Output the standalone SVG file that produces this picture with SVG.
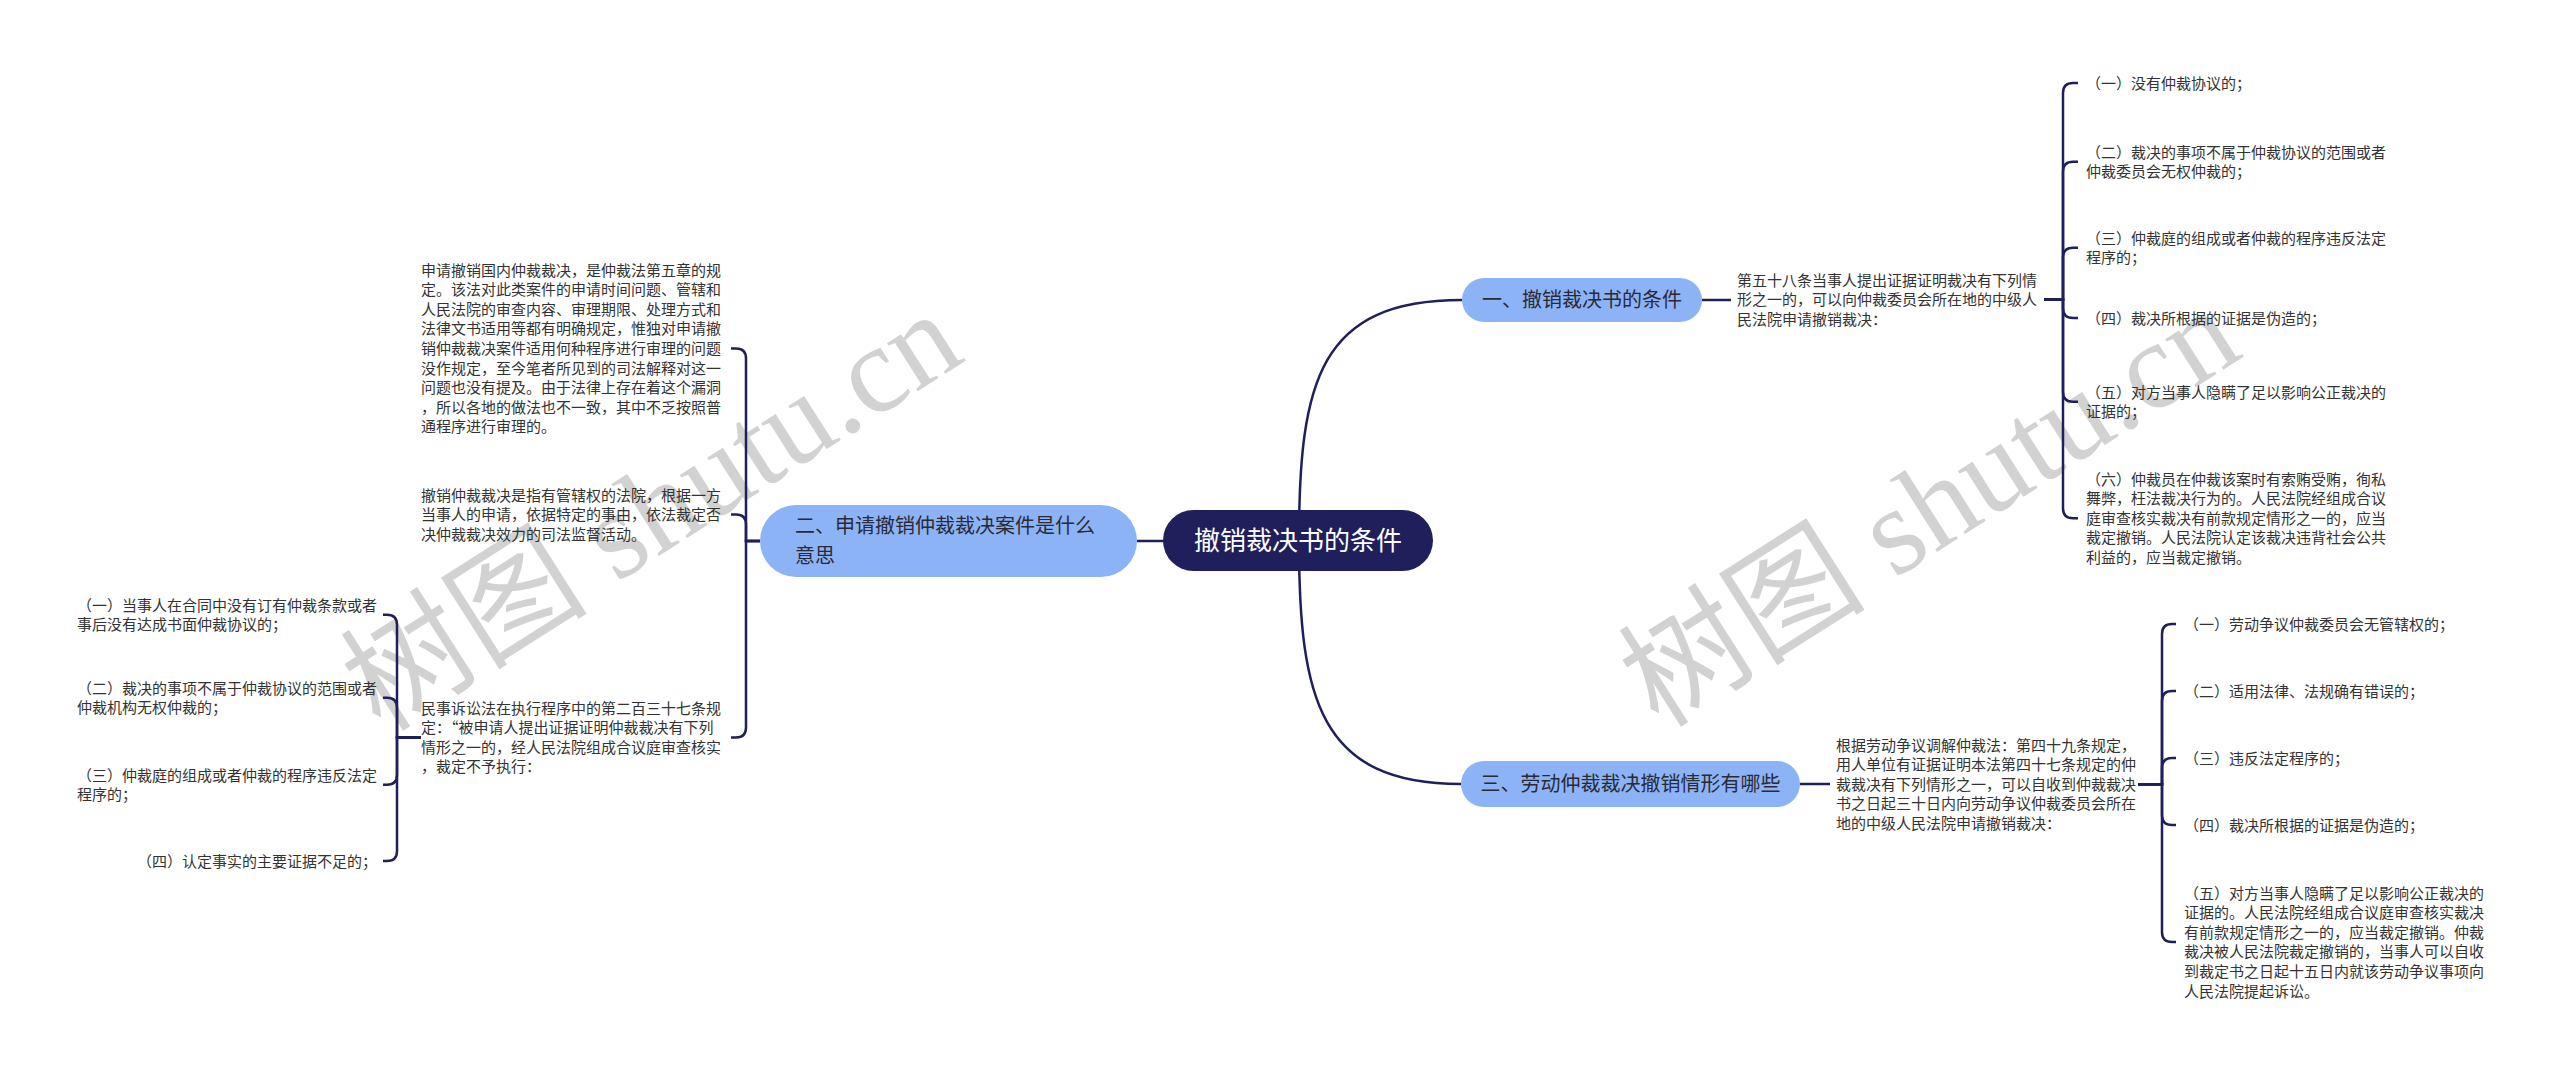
<svg xmlns="http://www.w3.org/2000/svg" width="2560" height="1073" viewBox="0 0 2560 1073">
<style>
.t{font-family:"Noto Sans CJK SC","Noto Sans",sans-serif;font-size:15px;fill:#333333}
.b{font-family:"Noto Sans CJK SC","Noto Sans",sans-serif;font-size:20px;fill:#2a2a36}
.c{font-family:"Noto Sans CJK SC","Noto Sans",sans-serif;font-size:26px;fill:#ffffff}
.ln{fill:none;stroke:#1f1f5b;stroke-width:2.5}
.wm{font-family:"Liberation Serif","Noto Sans CJK SC",serif;font-size:124px;fill:#d2d2d2}
.bn{fill:#8cb3f6}
.cn{fill:#1f1f5b}
</style>
<rect x="0" y="0" width="2560" height="1073" fill="#ffffff"/>
<g id="watermarks">
<text class="wm" x="651" y="553" text-anchor="middle" transform="rotate(-32.5 651 510)">树图 shutu.cn</text>
<text class="wm" x="1929" y="549" text-anchor="middle" transform="rotate(-32.5 1929 506)">树图 shutu.cn</text>
</g>
<g id="connectors">
<path class="ln" d="M1299,541 H1137"/>
<path class="ln" d="M1299,541 C1299,380 1320,300 1462,300"/>
<path class="ln" d="M1299,541 C1299,700 1320,784 1461,784"/>
<path class="ln" d="M1702,300 H1731"/>
<path class="ln" d="M1800,784 H1830"/>
<path class="ln" d="M2044,299.5 H2063 V93 Q2063,83 2073,83 H2078"/>
<path class="ln" d="M2044,299.5 H2063 V171.8 Q2063,161.8 2073,161.8 H2078"/>
<path class="ln" d="M2044,299.5 H2063 V257.8 Q2063,247.8 2073,247.8 H2078"/>
<path class="ln" d="M2044,299.5 H2063 V308 Q2063,318 2073,318 H2078"/>
<path class="ln" d="M2044,299.5 H2063 V391.8 Q2063,401.8 2073,401.8 H2078"/>
<path class="ln" d="M2044,299.5 H2063 V508.2 Q2063,518.2 2073,518.2 H2078"/>
<path class="ln" d="M2138,784.2 H2162 V634 Q2162,624 2172,624 H2176"/>
<path class="ln" d="M2138,784.2 H2162 V701 Q2162,691 2172,691 H2176"/>
<path class="ln" d="M2138,784.2 H2162 V768 Q2162,758 2172,758 H2176"/>
<path class="ln" d="M2138,784.2 H2162 V815 Q2162,825 2172,825 H2176"/>
<path class="ln" d="M2138,784.2 H2162 V932 Q2162,942 2172,942 H2176"/>
<path class="ln" d="M760,541 H746 V358.4 Q746,348.4 736,348.4 H731"/>
<path class="ln" d="M760,541 H746 V524.6 Q746,514.6 736,514.6 H731"/>
<path class="ln" d="M760,541 H746 V727.4 Q746,737.4 736,737.4 H731"/>
<path class="ln" d="M421,737.4 H397 V624.8 Q397,614.8 387,614.8 H383"/>
<path class="ln" d="M421,737.4 H397 V707.8 Q397,697.8 387,697.8 H383"/>
<path class="ln" d="M421,737.4 H397 V774.8 Q397,784.8 387,784.8 H383"/>
<path class="ln" d="M421,737.4 H397 V851 Q397,861 387,861 H383"/>
</g>
<g id="root">
<rect class="cn" x="1163" y="510" width="270" height="61" rx="30.5"/>
<text class="c" x="1298" y="550" text-anchor="middle">撤销裁决书的条件</text>
</g>
<g id="branch1">
<rect class="bn" x="1462" y="278" width="240" height="44" rx="22"/>
<text class="b" x="1582" y="307" text-anchor="middle">一、撤销裁决书的条件</text>
</g>
<g id="branch2">
<rect class="bn" x="760" y="505" width="377" height="72" rx="36"/>
<text class="b" x="795" y="533">二、申请撤销仲裁裁决案件是什么</text>
<text class="b" x="795" y="563">意思</text>
</g>
<g id="branch3">
<rect class="bn" x="1461" y="761" width="339" height="46" rx="23"/>
<text class="b" x="1630.5" y="791" text-anchor="middle">三、劳动仲裁裁决撤销情形有哪些</text>
</g>
<g id="b1-text">
<text class="t" x="1737" y="285.5">第五十八条当事人提出证据证明裁决有下列情</text>
<text class="t" x="1737" y="305">形之一的，可以向仲裁委员会所在地的中级人</text>
<text class="t" x="1737" y="324.5">民法院申请撤销裁决：</text>
</g>
<g id="b1-item1"><text class="t" x="2086" y="88.5">（一）没有仲裁协议的；</text></g>
<g id="b1-item2">
<text class="t" x="2086" y="157.5">（二）裁决的事项不属于仲裁协议的范围或者</text>
<text class="t" x="2086" y="177.1">仲裁委员会无权仲裁的；</text>
</g>
<g id="b1-item3">
<text class="t" x="2086" y="243.5">（三）仲裁庭的组成或者仲裁的程序违反法定</text>
<text class="t" x="2086" y="263.1">程序的；</text>
</g>
<g id="b1-item4"><text class="t" x="2086" y="323.5">（四）裁决所根据的证据是伪造的；</text></g>
<g id="b1-item5">
<text class="t" x="2086" y="397.5">（五）对方当事人隐瞒了足以影响公正裁决的</text>
<text class="t" x="2086" y="417.1">证据的；</text>
</g>
<g id="b1-item6">
<text class="t" x="2086" y="484.5">（六）仲裁员在仲裁该案时有索贿受贿，徇私</text>
<text class="t" x="2086" y="504.1">舞弊，枉法裁决行为的。人民法院经组成合议</text>
<text class="t" x="2086" y="523.7">庭审查核实裁决有前款规定情形之一的，应当</text>
<text class="t" x="2086" y="543.3">裁定撤销。人民法院认定该裁决违背社会公共</text>
<text class="t" x="2086" y="562.9">利益的，应当裁定撤销。</text>
</g>
<g id="b3-text">
<text class="t" x="1836" y="750.5">根据劳动争议调解仲裁法：第四十九条规定，</text>
<text class="t" x="1836" y="770.1">用人单位有证据证明本法第四十七条规定的仲</text>
<text class="t" x="1836" y="789.7">裁裁决有下列情形之一，可以自收到仲裁裁决</text>
<text class="t" x="1836" y="809.3">书之日起三十日内向劳动争议仲裁委员会所在</text>
<text class="t" x="1836" y="828.9">地的中级人民法院申请撤销裁决：</text>
</g>
<g id="b3-item1"><text class="t" x="2184" y="629.5">（一）劳动争议仲裁委员会无管辖权的；</text></g>
<g id="b3-item2"><text class="t" x="2184" y="696.5">（二）适用法律、法规确有错误的；</text></g>
<g id="b3-item3"><text class="t" x="2184" y="763.5">（三）违反法定程序的；</text></g>
<g id="b3-item4"><text class="t" x="2184" y="830.5">（四）裁决所根据的证据是伪造的；</text></g>
<g id="b3-item5">
<text class="t" x="2184" y="898.5">（五）对方当事人隐瞒了足以影响公正裁决的</text>
<text class="t" x="2184" y="918.1">证据的。人民法院经组成合议庭审查核实裁决</text>
<text class="t" x="2184" y="937.7">有前款规定情形之一的，应当裁定撤销。仲裁</text>
<text class="t" x="2184" y="957.3">裁决被人民法院裁定撤销的，当事人可以自收</text>
<text class="t" x="2184" y="976.9">到裁定书之日起十五日内就该劳动争议事项向</text>
<text class="t" x="2184" y="996.5">人民法院提起诉讼。</text>
</g>
<g id="b2-textA">
<text class="t" x="421" y="275.5">申请撤销国内仲裁裁决，是仲裁法第五章的规</text>
<text class="t" x="421" y="295.1">定。该法对此类案件的申请时间问题、管辖和</text>
<text class="t" x="421" y="314.7">人民法院的审查内容、审理期限、处理方式和</text>
<text class="t" x="421" y="334.3">法律文书适用等都有明确规定，惟独对申请撤</text>
<text class="t" x="421" y="353.9">销仲裁裁决案件适用何种程序进行审理的问题</text>
<text class="t" x="421" y="373.5">没作规定，至今笔者所见到的司法解释对这一</text>
<text class="t" x="421" y="393.1">问题也没有提及。由于法律上存在着这个漏洞</text>
<text class="t" x="421" y="412.7">，所以各地的做法也不一致，其中不乏按照普</text>
<text class="t" x="421" y="432.3">通程序进行审理的。</text>
</g>
<g id="b2-textB">
<text class="t" x="421" y="500.5">撤销仲裁裁决是指有管辖权的法院，根据一方</text>
<text class="t" x="421" y="520.1">当事人的申请，依据特定的事由，依法裁定否</text>
<text class="t" x="421" y="539.7">决仲裁裁决效力的司法监督活动。</text>
</g>
<g id="b2-textC">
<text class="t" x="421" y="713.5">民事诉讼法在执行程序中的第二百三十七条规</text>
<text class="t" x="421" y="733.1">定：“被申请人提出证据证明仲裁裁决有下列</text>
<text class="t" x="421" y="752.7">情形之一的，经人民法院组成合议庭审查核实</text>
<text class="t" x="421" y="772.3">，裁定不予执行：</text>
</g>
<g id="c-item1">
<text class="t" x="77" y="610.5">（一）当事人在合同中没有订有仲裁条款或者</text>
<text class="t" x="77" y="630.1">事后没有达成书面仲裁协议的；</text>
</g>
<g id="c-item2">
<text class="t" x="77" y="693.5">（二）裁决的事项不属于仲裁协议的范围或者</text>
<text class="t" x="77" y="713.1">仲裁机构无权仲裁的；</text>
</g>
<g id="c-item3">
<text class="t" x="77" y="780.5">（三）仲裁庭的组成或者仲裁的程序违反法定</text>
<text class="t" x="77" y="800.1">程序的；</text>
</g>
<g id="c-item4"><text class="t" x="137" y="866.5">（四）认定事实的主要证据不足的；</text></g>
</svg>
